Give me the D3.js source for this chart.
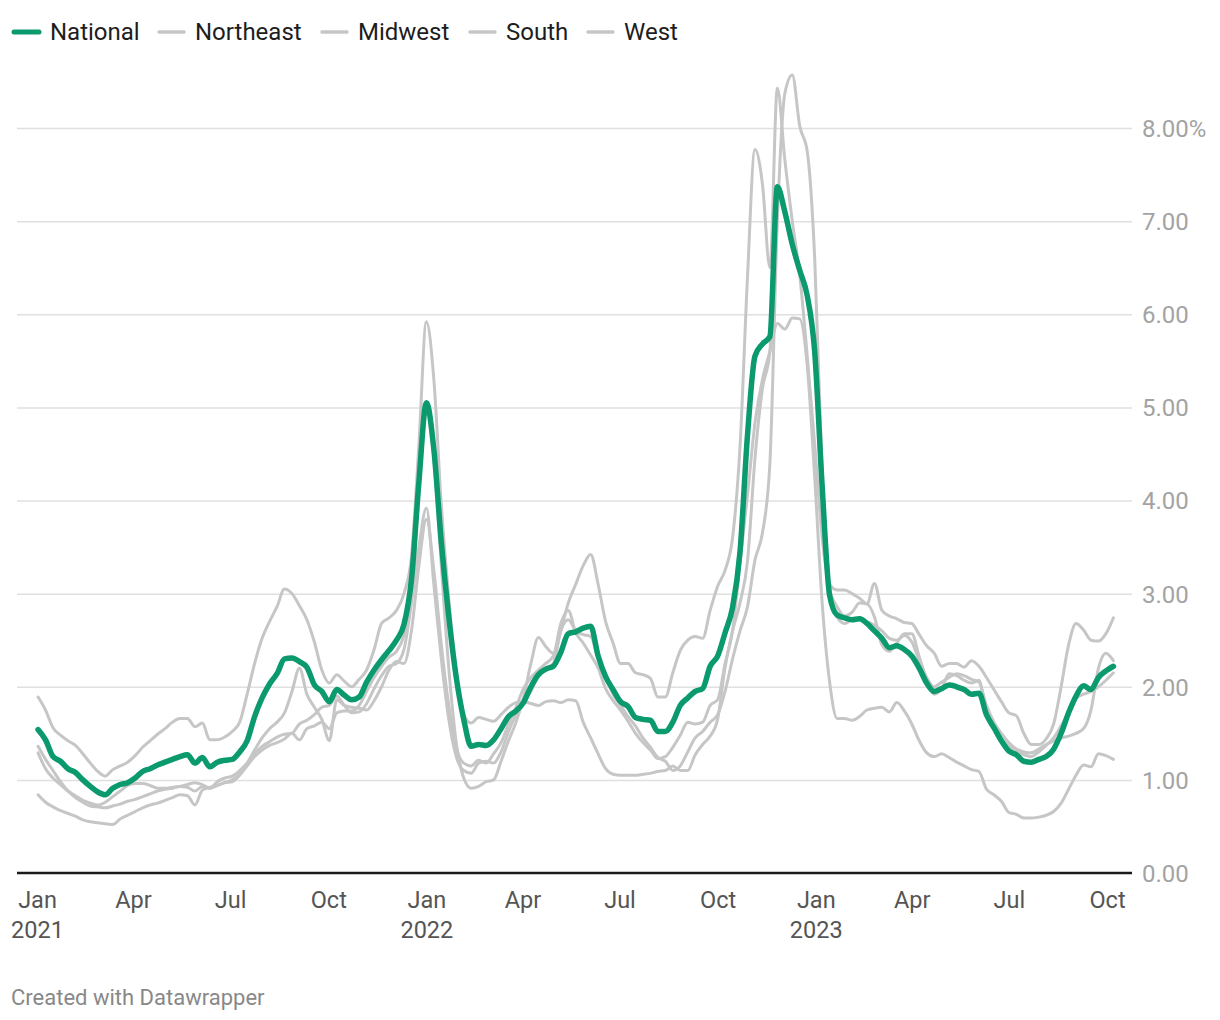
<!DOCTYPE html>
<html><head><meta charset="utf-8">
<script src="https://cdn.jsdelivr.net/npm/d3@7"></script>
<style>
body{margin:0;background:#fff;}
svg{display:block;font-family:Roboto,"Noto Sans",sans-serif;}
</style></head><body>
<svg id="chart" width="1220" height="1020"></svg>
<script>
// ---- DATA ----
const seriesNames = ["National", "Northeast", "Midwest", "South", "West"];
const firstWeek = "2021-01-02"; // weekly observations
const national = [
1.54,1.43,1.25,1.20,1.12,1.08,1.00,0.93,0.87,0.84,
0.91,0.95,0.97,1.02,1.09,1.12,1.16,1.19,1.22,1.25,
1.27,1.18,1.24,1.14,1.19,1.21,1.22,1.30,1.42,1.68,
1.88,2.03,2.14,2.30,2.31,2.27,2.21,2.02,1.95,1.84,
1.97,1.91,1.86,1.89,2.05,2.18,2.29,2.39,2.50,2.67,
3.15,4.20,5.05,4.55,3.55,2.75,2.10,1.65,1.36,1.38,
1.37,1.43,1.55,1.68,1.74,1.83,2.00,2.13,2.19,2.22,
2.37,2.57,2.59,2.63,2.65,2.33,2.11,1.97,1.84,1.79,
1.67,1.65,1.64,1.52,1.52,1.62,1.80,1.88,1.95,1.98,
2.22,2.33,2.58,2.85,3.45,4.70,5.55,5.68,5.76,7.37,
7.10,6.75,6.47,6.20,5.60,4.15,2.98,2.77,2.74,2.72,
2.73,2.68,2.60,2.52,2.42,2.44,2.40,2.33,2.20,2.04,
1.95,1.98,2.02,2.00,1.97,1.92,1.93,1.70,1.56,1.42,
1.31,1.27,1.20,1.19,1.22,1.25,1.33,1.50,1.72,1.90,
2.01,1.97,2.10,2.17,2.22];
const northeast = [
1.89,1.75,1.56,1.48,1.42,1.37,1.28,1.18,1.09,1.04,
1.11,1.15,1.19,1.26,1.35,1.42,1.49,1.55,1.62,1.66,
1.66,1.57,1.61,1.43,1.43,1.46,1.52,1.62,1.92,2.25,
2.52,2.70,2.86,3.05,3.00,2.87,2.72,2.48,2.18,2.04,
2.13,2.06,2.00,2.08,2.18,2.40,2.68,2.74,2.82,3.00,
3.40,4.60,5.92,5.30,3.95,2.95,2.15,1.70,1.61,1.67,
1.65,1.63,1.70,1.78,1.83,1.84,1.82,1.80,1.84,1.85,
1.83,1.86,1.85,1.62,1.45,1.28,1.12,1.06,1.05,1.05,
1.05,1.06,1.07,1.09,1.10,1.15,1.10,1.10,1.27,1.38,
1.47,1.65,2.21,2.60,2.90,3.35,4.45,5.20,5.60,7.30,
7.06,6.71,6.43,6.16,5.55,4.10,2.95,2.75,2.68,2.72,
2.74,2.70,2.66,2.60,2.52,2.50,2.55,2.48,2.28,2.10,
2.00,2.05,2.10,2.14,2.12,2.08,2.05,1.80,1.62,1.50,
1.40,1.33,1.30,1.29,1.33,1.38,1.42,1.45,1.47,1.50,
1.55,1.75,2.20,2.36,2.28];
const midwest = [
1.36,1.22,1.10,0.98,0.88,0.81,0.76,0.72,0.71,0.70,
0.72,0.74,0.77,0.79,0.82,0.85,0.88,0.90,0.91,0.93,
0.92,0.88,0.93,0.91,0.94,0.97,1.00,1.06,1.18,1.32,
1.45,1.55,1.62,1.72,1.95,2.20,1.92,1.78,1.65,1.42,
1.86,1.80,1.78,1.77,1.75,1.85,2.00,2.18,2.27,2.25,
2.60,3.30,3.80,3.25,2.45,1.80,1.35,1.18,1.15,1.21,
1.18,1.28,1.40,1.60,1.78,1.98,2.10,2.18,2.25,2.33,
2.60,2.90,3.10,3.30,3.42,3.10,2.70,2.47,2.25,2.25,
2.15,2.13,2.09,1.89,1.89,2.15,2.39,2.50,2.54,2.52,
2.82,3.08,3.25,3.60,4.58,6.40,7.77,7.40,6.50,8.43,
7.66,7.00,6.42,5.55,4.60,3.60,3.05,2.86,2.76,2.80,
2.90,2.89,2.75,2.45,2.38,2.47,2.57,2.57,2.32,2.08,
1.92,1.98,2.14,2.12,2.07,2.04,2.07,1.70,1.56,1.44,
1.36,1.30,1.27,1.25,1.30,1.37,1.45,1.58,1.72,1.88,
1.92,1.95,2.00,2.07,2.15];
const south = [
1.29,1.12,1.02,0.95,0.88,0.83,0.78,0.75,0.73,0.76,
0.82,0.88,0.94,0.96,0.96,0.94,0.91,0.91,0.92,0.93,
0.95,0.97,0.95,0.91,0.98,1.02,1.04,1.10,1.18,1.28,
1.36,1.41,1.46,1.49,1.50,1.60,1.64,1.70,1.78,1.80,
1.90,1.80,1.72,1.73,1.82,1.98,2.12,2.22,2.25,2.40,
2.90,3.50,3.92,3.10,2.30,1.65,1.25,1.10,1.07,1.18,
1.20,1.18,1.30,1.52,1.70,1.85,1.95,2.12,2.20,2.25,
2.60,2.72,2.60,2.56,2.54,2.30,2.10,1.92,1.80,1.68,
1.58,1.45,1.35,1.24,1.20,1.10,1.15,1.30,1.45,1.52,
1.62,1.70,1.95,2.30,2.60,2.86,3.36,3.65,4.40,7.00,
8.37,8.57,8.02,7.75,6.60,4.30,3.10,3.04,3.04,3.00,
2.95,2.89,3.11,2.82,2.76,2.73,2.69,2.68,2.56,2.44,
2.36,2.22,2.25,2.25,2.21,2.28,2.22,2.10,1.97,1.84,
1.72,1.69,1.50,1.38,1.38,1.44,1.60,2.00,2.45,2.68,
2.61,2.50,2.49,2.57,2.74];
const west = [
0.84,0.76,0.71,0.67,0.64,0.61,0.57,0.55,0.54,0.53,
0.52,0.58,0.62,0.66,0.70,0.73,0.75,0.78,0.81,0.84,
0.83,0.73,0.89,0.92,0.94,0.97,0.98,1.05,1.15,1.25,
1.32,1.37,1.40,1.44,1.50,1.43,1.55,1.58,1.62,1.55,
1.72,1.74,1.74,1.80,1.95,2.10,2.22,2.32,2.38,2.55,
2.95,4.10,4.95,4.45,3.30,2.20,1.40,1.02,0.91,0.93,
0.98,1.00,1.20,1.42,1.62,1.88,2.25,2.53,2.43,2.36,
2.68,2.82,2.58,2.47,2.34,2.20,1.98,1.85,1.75,1.63,
1.50,1.40,1.32,1.23,1.25,1.35,1.48,1.62,1.60,1.62,
1.80,1.86,2.25,2.60,3.33,4.06,4.83,5.30,5.60,5.90,
5.84,5.96,5.95,5.45,4.25,2.90,2.05,1.66,1.66,1.64,
1.68,1.75,1.77,1.78,1.73,1.83,1.74,1.60,1.42,1.29,
1.25,1.28,1.24,1.19,1.15,1.11,1.09,0.90,0.84,0.77,
0.65,0.63,0.59,0.59,0.60,0.62,0.66,0.75,0.90,1.05,
1.16,1.14,1.28,1.26,1.22];
const yTickValues = [0, 1, 2, 3, 4, 5, 6, 7, 8];
const xTickDates = ["2021-01-01","2021-04-01","2021-07-01","2021-10-01","2022-01-01","2022-04-01","2022-07-01","2022-10-01","2023-01-01","2023-04-01","2023-07-01","2023-10-01"];
const xTickMonths = ["Jan","Apr","Jul","Oct","Jan","Apr","Jul","Oct","Jan","Apr","Jul","Oct"];
const xTickYears = ["2021","","","","2022","","","","2023","","",""];
const footerText = "Created with Datawrapper";

// ---- CHART ----
const svg = d3.select("#chart");
const parse = d3.utcParse("%Y-%m-%d");
const start = parse(firstWeek);
const dates = national.map((_, i) => d3.utcDay.offset(start, 7 * i));

const x = d3.scaleUtc().domain([parse("2021-01-01"), parse("2023-10-01")]).range([37, 1107]);
const y = d3.scaleLinear().domain([0, 8]).range([873, 128]);
const plotLeft = 17, plotRight = 1132;

const green = "#0a9a6d", gray = "#c6c6c6";

// Y axis with gridlines
const yAxis = d3.axisRight(y).tickValues(yTickValues)
  .tickSize(-(plotRight - plotLeft)).tickPadding(10)
  .tickFormat(d => d === 8 ? d3.format(".2f")(d) + "%" : d3.format(".2f")(d));
const gy = svg.append("g").attr("transform", `translate(${plotRight},0)`).call(yAxis);
gy.select(".domain").remove();
gy.selectAll(".tick line").attr("stroke", "#e0e0e0").attr("stroke-width", 1.5)
  .filter(d => d === 0).remove();
gy.selectAll(".tick text").attr("fill", "#a3a3a3").style("font-size", "24px")
  .style("font-family", "Roboto").attr("dy", "0.35em");

// Lines
const line = d3.line().x((d, i) => x(dates[i])).y(d => y(d)).curve(d3.curveMonotoneX);
const grays = [northeast, midwest, south, west];
svg.append("g").selectAll("path").data(grays).join("path")
  .attr("d", line).attr("fill", "none").attr("stroke", gray)
  .attr("stroke-width", 3).attr("stroke-linejoin", "round").attr("stroke-linecap", "round");
svg.append("path").datum(national).attr("d", line).attr("fill", "none")
  .attr("stroke", green).attr("stroke-width", 5.5).attr("stroke-linejoin", "round").attr("stroke-linecap", "round");

// X axis
const xAxis = d3.axisBottom(x).tickValues(xTickDates.map(parse)).tickSize(0).tickPadding(18)
  .tickFormat((d, i) => xTickMonths[i]);
const gx = svg.append("g").attr("transform", `translate(0,${y(0)})`).call(xAxis);
gx.select(".domain").remove();
gx.selectAll(".tick text").attr("fill", "#555").style("font-size", "23.5px").style("font-family", "Roboto")
  .each(function(d, i) {
    if (xTickYears[i]) {
      d3.select(this).append("tspan").attr("x", 0).attr("dy", "1.27em").text(xTickYears[i]);
    }
  });
svg.append("line").attr("x1", plotLeft).attr("x2", plotRight).attr("y1", y(0)).attr("y2", y(0))
  .attr("stroke", "#1a1a1a").attr("stroke-width", 2.5);

// Legend
const legendX = [12, 157, 320, 468, 586];
const lg = svg.append("g").selectAll("g").data(seriesNames).join("g")
  .attr("transform", (d, i) => `translate(${legendX[i]},32)`);
lg.append("line").attr("x1", 2).attr("x2", 27).attr("y1", 0).attr("y2", 0)
  .attr("stroke", (d, i) => i === 0 ? green : gray).attr("stroke-width", (d, i) => i === 0 ? 5 : 3.5)
  .attr("stroke-linecap", "round");
lg.append("text").attr("x", 38).attr("y", 0).attr("dy", "0.35em").text(d => d)
  .attr("fill", "#1d1d1d").style("font-size", "24px").style("font-family", "Roboto");

// Footer
svg.append("text").attr("x", 11).attr("y", 997).attr("dy", "0.35em").text(footerText)
  .attr("fill", "#888").style("font-size", "22px").style("font-family", "Roboto");
</script>
</body></html>
